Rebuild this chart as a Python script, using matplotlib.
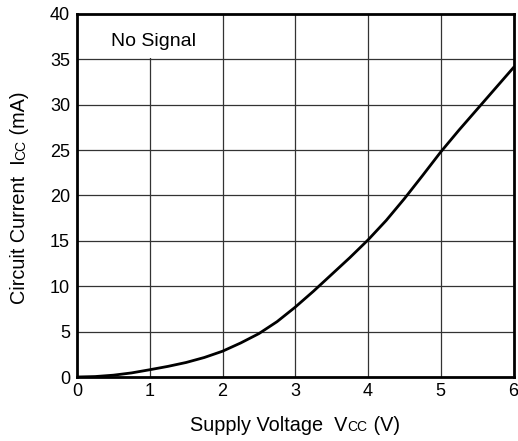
import matplotlib
matplotlib.use("Agg")
import matplotlib.pyplot as plt
from matplotlib.patches import Rectangle

# --------------------------------------------------
# Data
# --------------------------------------------------
vcc = [0, 0.25, 0.5, 0.75, 1.0, 1.25, 1.5, 1.75, 2.0, 2.25, 2.5, 2.75, 3.0,
       3.25, 3.5, 3.75, 4.0, 4.25, 4.5, 4.75, 5.0, 5.25, 5.5, 5.75, 6.0]
icc = [0, 0.05, 0.2, 0.45, 0.8, 1.17, 1.6, 2.15, 2.84, 3.75, 4.78, 6.1, 7.7,
       9.45, 11.3, 13.15, 15.1, 17.25, 19.65, 22.2, 24.8, 27.2, 29.5, 31.8, 34.1]

x_ticks = [0, 1, 2, 3, 4, 5, 6]
y_ticks = [0, 5, 10, 15, 20, 25, 30, 35, 40]

plt.rcParams["font.family"] = ["Liberation Sans", "DejaVu Sans"]

W, H = 518, 441
fig = plt.figure(figsize=(W / 100, H / 100), dpi=100)
ax = fig.add_axes([77 / W, (H - 377) / H, (513.5 - 77) / W, (377 - 14) / H])

ax.set_xlim(0, 6)
ax.set_ylim(0, 40)
ax.set_xticks(x_ticks)
ax.set_yticks(y_ticks)
ax.tick_params(length=0, labelsize=13)
ax.tick_params(axis="y", pad=5)
ax.tick_params(axis="x", pad=4)

# grid
for xv in x_ticks[1:-1]:
    ax.axvline(xv, color="#333333", lw=0.9, zorder=1)
for yv in y_ticks[1:-1]:
    ax.axhline(yv, color="#333333", lw=0.9, zorder=1)

# white box behind the "No Signal" note
ax.add_patch(Rectangle((0.02, 35.15), 1.96, 4.8, facecolor="white",
                       edgecolor="none", zorder=2))
ax.text(1.045, 36.47, "No Signal", ha="center", va="baseline", fontsize=14, zorder=3)

ax.plot(vcc, icc, color="black", lw=2.0, zorder=4, solid_joinstyle="round")

for s in ax.spines.values():
    s.set_linewidth(2.0)
    s.set_zorder(5)

# --------------------------------------------------
# Axis labels with small "CC"
# --------------------------------------------------
renderer = fig.canvas.get_renderer()


def place_label(pieces, center, baseline, vertical=False):
    texts = []
    for txt, size in pieces:
        if vertical:
            t = fig.text(0, 0, txt, fontsize=size, rotation=90, rotation_mode="anchor",
                         ha="left", va="baseline", transform=None)
        else:
            t = fig.text(0, 0, txt, fontsize=size, ha="left", va="baseline", transform=None)
        texts.append(t)
    sizes = []
    for t in texts:
        bb = t.get_window_extent(renderer)
        sizes.append(bb.height if vertical else bb.width)
    pos = center - sum(sizes) / 2
    for t, sz in zip(texts, sizes):
        if vertical:
            t.set_position((baseline, pos))
        else:
            t.set_position((pos, baseline))
        pos += sz


place_label([("Supply Voltage  V", 14.3), ("CC", 10), (" (V)", 14.3)], 295, H - 431)
place_label([("Circuit Current  I", 14.3), ("CC", 10), (" (mA)", 14.3)], H - 197.5, 25,
            vertical=True)

fig.savefig("out.png", dpi=100)
